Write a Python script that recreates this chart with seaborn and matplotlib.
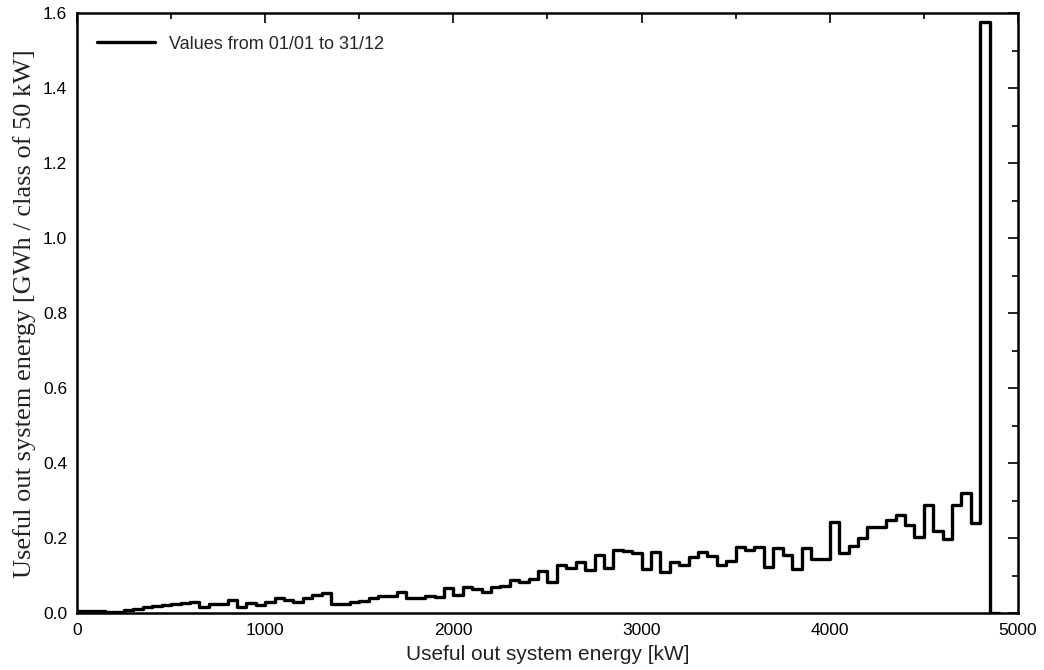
import numpy as np
import pandas as pd
import matplotlib
matplotlib.use("Agg")
import matplotlib.pyplot as plt
from matplotlib.ticker import MultipleLocator
import seaborn as sns

# ---- data: energy per 50 kW class (GWh), classes starting at 0 kW ----
class_width = 50
energy_gwh = [
    0.005, 0.006, 0.004, 0.003, 0.003, 0.008, 0.011, 0.015, 0.018, 0.021,
    0.025, 0.027, 0.028, 0.015, 0.024, 0.023, 0.035, 0.015, 0.027, 0.021,
    0.030, 0.039, 0.035, 0.029, 0.041, 0.048, 0.054, 0.024, 0.024, 0.029,
    0.032, 0.041, 0.044, 0.044, 0.057, 0.041, 0.041, 0.045, 0.042, 0.066,
    0.048, 0.070, 0.063, 0.057, 0.069, 0.073, 0.088, 0.082, 0.090, 0.112,
    0.082, 0.128, 0.120, 0.136, 0.115, 0.155, 0.120, 0.167, 0.165, 0.160,
    0.117, 0.164, 0.110, 0.136, 0.128, 0.149, 0.164, 0.151, 0.128, 0.140,
    0.176, 0.167, 0.176, 0.124, 0.173, 0.155, 0.117, 0.173, 0.144, 0.144,
    0.242, 0.159, 0.180, 0.200, 0.230, 0.230, 0.248, 0.262, 0.235, 0.204,
    0.289, 0.218, 0.198, 0.289, 0.321, 0.240, 1.577, 0.0,
]
legend_label = "Values from 01/01 to 31/12"
x_label = "Useful out system energy [kW]"
y_label = "Useful out system energy [GWh / class of 50 kW]"
x_ticks = [0, 1000, 2000, 3000, 4000, 5000]
y_ticks = [0.0, 0.2, 0.4, 0.6, 0.8, 1.0, 1.2, 1.4, 1.6]

n = len(energy_gwh)
centers = np.arange(n) * class_width + class_width / 2
df = pd.DataFrame({"power": centers, "energy": energy_gwh})

sns.set_theme(style="white")
plt.rcParams["font.family"] = ["Liberation Sans", "DejaVu Sans"]

fig = plt.figure(figsize=(10.44, 6.70), dpi=100)
ax = fig.add_axes([0.0738, 0.0851, 0.9012, 0.895])

sns.histplot(data=df, x="power", weights="energy",
             binwidth=class_width, binrange=(0, n * class_width),
             element="step", fill=False, color="black", linewidth=2.4, ax=ax)

ax.set_xlim(0, 5000)
ax.set_ylim(0, 1.6)
ax.set_xticks(x_ticks)
ax.set_yticks(y_ticks)
ax.xaxis.set_minor_locator(MultipleLocator(500))
ax.yaxis.set_minor_locator(MultipleLocator(0.1))
ax.set_xticklabels([str(t) for t in x_ticks])
ax.set_yticklabels([f"{t:.1f}" for t in y_ticks])

ax.tick_params(axis="both", which="both", direction="in", top=True, right=True,
               colors="black", labelsize=12.5, width=1.2)
ax.tick_params(axis="x", which="major", length=7, pad=7)
ax.tick_params(axis="y", which="major", length=7, pad=7)
ax.tick_params(axis="both", which="minor", length=4)
for s in ax.spines.values():
    s.set_color("black")
    s.set_linewidth(1.8)

ax.set_xlabel(x_label, fontsize=15, color="#222222", labelpad=5)
ax.set_ylabel(y_label, fontsize=19, color="#222222", labelpad=5,
              family=["Liberation Serif", "DejaVu Serif"])

line = ax.lines[0]
leg = ax.legend([line], [legend_label], loc="upper left", frameon=False,
                fontsize=13, handlelength=3.2, handletextpad=0.8,
                bbox_to_anchor=(0.004, 0.99))

fig.savefig("out.png", dpi=100, facecolor="white")
